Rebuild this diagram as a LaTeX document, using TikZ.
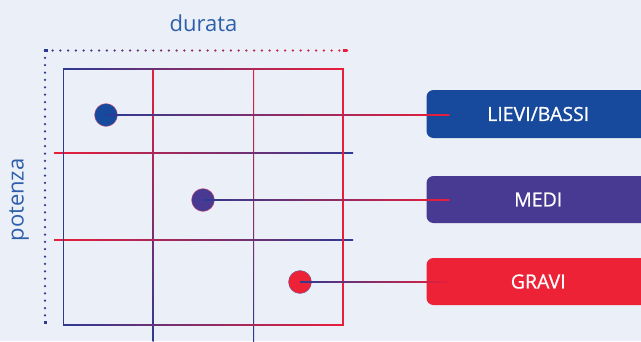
\documentclass[tikz,border=0pt]{standalone}
\usepackage{fontspec}
\setmainfont{Open Sans}
\newfontfamily\labelfont[FakeBold=0.7]{Open Sans}
\usetikzlibrary{calc}
\definecolor{bgc}{HTML}{EBEFF7}
\definecolor{gblue}{HTML}{2E3A92}
\definecolor{gred}{HTML}{E91E3A}
\definecolor{cblue}{HTML}{174A9C}
\definecolor{cpurple}{HTML}{483A93}
\definecolor{cred}{HTML}{EE2236}
\definecolor{titleblue}{HTML}{2D5FAA}
\begin{document}
\begin{tikzpicture}[x=1pt,y=-1pt,
  axislabel/.style={text=titleblue,font=\fontsize{22}{24}\selectfont,inner sep=0},
  dot/.style={circle,minimum size=23pt,inner sep=0pt,line width=0.35pt},
  catbox/.style={rounded corners=7pt,minimum width=223.5pt,text=white,
     font=\labelfont\fontsize{19.5}{21}\selectfont,inner sep=0pt},
  conn/.style={left color=gblue,right color=gred}
]
\fill[bgc] (0,0) rectangle (641,341);
\useasboundingbox (0,0) rectangle (641,341);

% axis labels
\node[axislabel] (durata) at (203.5,23) {durata};
\node[axislabel,rotate=90] (potenza) at (19,200) {potenza};

% dotted axes
\foreach \i in {0,...,39}{
  \pgfmathsetmacro\t{100*\i/39}
  \fill[gred!\t!gblue] (45+\i*7.744,50.5) circle (1.25);
}
\foreach \i in {0,...,36}{
  \fill[gblue] (45,50.5+\i*7.36) circle (1.25);
}
\fill[gblue] (43.5,49.3) rectangle (48,51.7);
\fill[gred] (342.5,49.3) rectangle (347,51.7);
\fill[gblue] (43.5,320.5) rectangle (46.5,324);

% grid
\shade[top color=gred,bottom color=gblue] (152.5,69) rectangle (153.6,341);
\shade[top color=gred,bottom color=gblue] (253,69) rectangle (254.1,341);
\shade[left color=gred,right color=gblue] (54,152.5) rectangle (353,153.6);
\shade[left color=gred,right color=gblue] (54,239.5) rectangle (353,240.6);
% outer square
\fill[gblue] (63,68.4) rectangle (64.3,325.7);
\shade[left color=gblue,right color=gred] (63,68.4) rectangle (343.6,69.7);
\fill[gred] (342.3,68.4) rectangle (343.6,325.7);
\shade[left color=gblue,right color=gred] (63,324.4) rectangle (343.6,325.7);

% category boxes
\node[catbox,fill=cblue,minimum height=48pt] (b1) at (538.25,114) {LIEVI/BASSI};
\node[catbox,fill=cpurple,minimum height=47pt] (b2) at (538.25,199.5) {MEDI};
\node[catbox,fill=cred,minimum height=47pt] (b3) at (538.25,281.5) {GRAVI};

% dots
\node[dot,fill=cblue,draw=gred!70] (d1) at (106,115) {};
\node[dot,fill=cpurple,draw=gred!70] (d2) at (203,200) {};
\node[dot,fill=cred,draw=gblue!80] (d3) at (300,282) {};

% connectors
\shade[conn] ($(d1.center)+(0,-0.5)$) rectangle ($(d1.center -| b1.west)+(23,0.5)$);
\shade[conn] ($(d2.center)+(0,-0.5)$) rectangle ($(d2.center -| b2.west)+(23,0.5)$);
\shade[conn] ($(d3.center)+(0,-0.5)$) rectangle ($(d3.center -| b3.west)+(23,0.5)$);
\end{tikzpicture}
\end{document}
